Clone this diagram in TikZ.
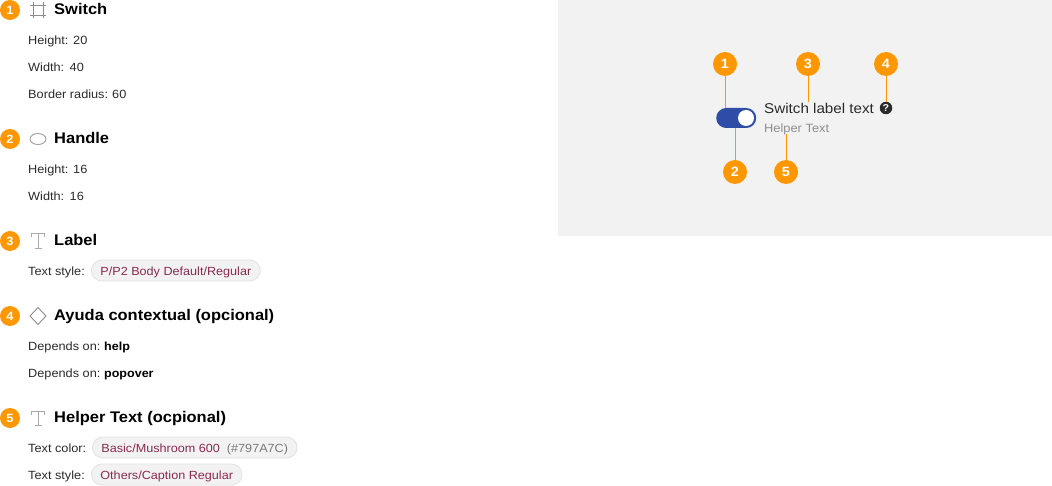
\documentclass[tikz,border=0pt]{standalone}
\usepackage{fontspec}
\setmainfont{Liberation Sans}[FakeStretch=1.07]
\usetikzlibrary{shapes.geometric}
\definecolor{badge}{HTML}{FF9800}
\definecolor{panel}{HTML}{F2F2F2}
\definecolor{tk}{HTML}{2B2B2B}
\definecolor{chipfill}{HTML}{F2F2F2}
\definecolor{chipline}{HTML}{E2E2E2}
\definecolor{chiptext}{HTML}{8A2A50}
\definecolor{hexgrey}{HTML}{797A7C}
\definecolor{sw}{HTML}{2E4DA7}
\definecolor{icon}{HTML}{8C8C8C}
\tikzset{
 x=1pt,y=-1pt,
 badgeL/.style={circle,fill=badge,inner sep=0pt,minimum size=20pt,text=white,font=\fontsize{12}{12}\selectfont\bfseries},
 badgeR/.style={circle,fill=badge,inner sep=0pt,minimum size=24pt,text=white,font=\fontsize{13.5}{13.5}\selectfont\bfseries},
 head/.style={anchor=base west,inner sep=0pt,font=\fontsize{15.4}{16}\selectfont\bfseries,text=black},
 prop/.style={anchor=base west,inner sep=0pt,font=\fontsize{11.9}{14}\selectfont,text=tk},
 val/.style={prop,font=\fontsize{11.7}{14}\selectfont\bfseries,text=black},
 chip/.style={anchor=base west,rounded corners=10.5pt,draw=chipline,fill=chipfill,line width=.8pt,text=chiptext,inner xsep=9pt,inner ysep=0pt,text height=15.5pt,text depth=5.5pt,font=\fontsize{11.8}{14}\selectfont},
 lead/.style={draw=badge,line width=1pt},
 iconline/.style={draw=icon,line width=.9pt},
 glyphT/.style={draw=icon!75,line width=1pt},
}
\begin{document}
\begin{tikzpicture}
\useasboundingbox (0,0) rectangle (1052,486);
\fill[white] (0,0) rectangle (1052,486);
\fill[panel] (558,0) rectangle (1052,236);
% left column
\node[badgeL] (b1) at (10,10) {1};
\node[badgeL] (b2) at (10,139) {2};
\node[badgeL] (b3) at (10,241) {3};
\node[badgeL] (b4) at (10,316) {4};
\node[badgeL] (b5) at (10,418) {5};
% icons
\draw[iconline] (30,5)--(46,5) (30,15)--(46,15) (33,2)--(33,18) (43,2)--(43,18);
\draw[iconline,draw=icon!85] (38,139) ellipse (8 and 5.5);
\foreach \yy in {241,418}{
 \draw[glyphT] (31.5,237.5)++(0,\yy-241)--++(0,-3.5)--++(13,0)--++(0,3.5);
 \draw[glyphT] (38,234)++(0,\yy-241)--++(0,14.5);
 \draw[glyphT] (34.5,248.5)++(0,\yy-241)--++(7,0);
}
\draw[iconline,line join=miter] (38,307.5)--(46,316)--(38,324.5)--(30,316)--cycle;
% headings
\node[head] (h1) at (54,14.5) {Switch};
\node[head] (h2) at (54,143.5) {Handle};
\node[head] (h3) at (54,245.5) {Label};
\node[head] (h4) at (54,320.5) {Ayuda contextual (opcional)};
\node[head] (h5) at (54,422.5) {Helper Text (ocpional)};
% properties
\node[prop] (p1) at (28,44.5) {Height:};
\node[prop] (p1v) at (73,44.5) {20};
\node[prop] (p2) at (28,71.5) {Width:};
\node[prop] (p2v) at (69.5,71.5) {40};
\node[prop] (p3) at (28,98.5) {Border radius:};
\node[prop] (p3v) at (112,98.5) {60};
\node[prop] (p4) at (28,173.5) {Height:};
\node[prop] (p4v) at (73,173.5) {16};
\node[prop] (p5) at (28,200.5) {Width:};
\node[prop] (p5v) at (69.5,200.5) {16};
\node[prop] (p6) at (28,275.5) {Text style:};
\node[chip] (c1) at (91,275.5) {P/P2 Body Default/Regular};
\node[prop] (p7) at (28,350.5) {Depends on:};
\node[val] (p7v) at (104,350.5) {help};
\node[prop] (p8) at (28,377.5) {Depends on:};
\node[val] (p8v) at (104,377.5) {popover};
\node[prop] (p9) at (28,452.5) {Text color:};
\node[chip] (c2) at (92,452.5) {Basic/Mushroom 600\hspace{7pt}\textcolor{hexgrey}{(\#797A7C)}};
\node[prop] (p10) at (28,479.5) {Text style:};
\node[chip] (c3) at (91,479.5) {Others/Caption Regular};
% right specimen
\node[badgeR] (r1) at (725,64) {1};
\node[badgeR] (r3) at (808,64) {3};
\node[badgeR] (r4) at (886,64) {4};
\node[badgeR] (r2) at (735,172) {2};
\node[badgeR] (r5) at (786,172) {5};
\node[anchor=west,inner sep=0pt,rounded corners=10pt,fill=sw,minimum width=40pt,minimum height=20pt] (sw) at (716,118) {};
\node[circle,fill=white,inner sep=0pt,minimum size=16pt] (hd) at (746,118) {};
\node[anchor=base west,inner sep=0pt,font=\fontsize{14.2}{16}\selectfont,text=tk] (lab) at (764,113.5) {Switch label text};
\node[anchor=base west,inner sep=0pt,font=\fontsize{12}{14}\selectfont,text=hexgrey!85] (hlp) at (764,132.5) {Helper Text};
\node[circle,fill=tk,inner sep=0pt,minimum size=12.5pt,text=white,font=\fontsize{10}{10}\selectfont\bfseries] (hq) at (886,108) {?};
\coordinate (lab3) at (808,102);
\coordinate (hlp5) at (786,134);
\coordinate (sw1) at (725,108);
\coordinate (sw2) at (735,128);
\draw[lead] (r1) -- (sw1);
\draw[lead] (r2) -- (sw2);
\draw[lead] (r3) -- (lab3);
\draw[lead] (r4) -- (hq);
\draw[lead] (r5) -- (hlp5);
\end{tikzpicture}
\end{document}
